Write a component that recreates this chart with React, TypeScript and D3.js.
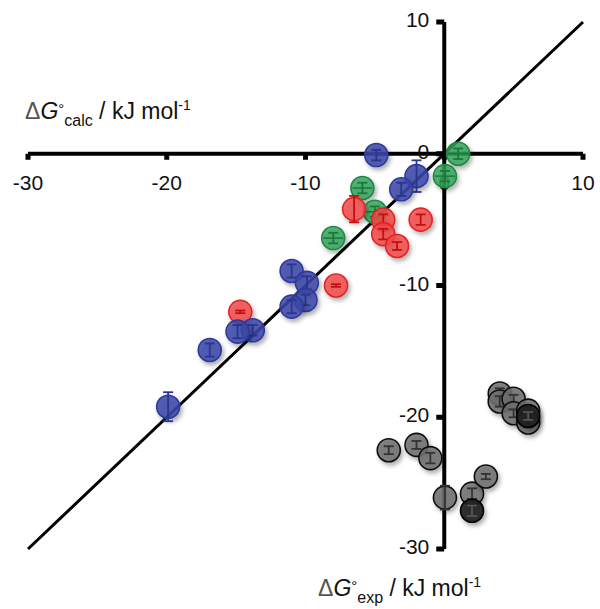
import { useEffect, useRef } from 'react'
import * as d3 from 'd3'

// experimental vs calculated free energies (kJ/mol)
const blueExp = [-4.9, -2.0, -3.1, -11.0, -9.9, -10.0, -11.0, -13.8, -14.9, -16.9, -19.9]
const blueCalc = [-0.1, -1.7, -2.7, -8.9, -9.8, -11.1, -11.6, -13.4, -13.5, -14.9, -19.2]
const blueErr = [0.4, 1.2, 0.5, 0.5, 0.5, 0.4, 0.5, 0.4, 0.5, 0.5, 1.1]

const redExp = [-6.5, -4.4, -4.4, -3.4, -1.7, -7.8, -14.7]
const redCalc = [-4.2, -5.0, -6.1, -7.0, -5.0, -10.0, -12.0]
const redErr = [1.0, 0.4, 0.4, 0.3, 0.4, 0.1, 0.1]

const greenExp = [1.0, 0.05, -5.9, -5.0, -8.0]
const greenCalc = [0.0, -1.7, -2.6, -4.4, -6.4]
const greenErr = [0.4, 0.4, 0.4, 0.4, 0.4]

const grayExp = [-4.0, -2.0, -1.0, 0.05, 2.0, 3.0, 4.0, 4.0, 5.0, 5.0, 6.05, 6.05]
const grayCalc = [-22.5, -22.1, -23.1, -26.1, -25.8, -24.5, -18.2, -18.8, -18.6, -19.7, -19.5, -20.4]
const grayErr = [0.3, 0.3, 0.4, 0.9, 0.4, 0.2, 0.4, 0.4, 0.3, 0.3, 0.3, 0.3]

const darkExp = [2.0, 6.05]
const darkCalc = [-27.1, -19.9]
const darkErr = [0.4, 0.3]

const xTicks = [-30, -20, -10, 0, 10]
const yTicks = [10, 0, -10, -20, -30]

const App = () => {
  const ref = useRef(null)

  useEffect(() => {
    const width = 600
    const height = 609
    const svg = d3.select(ref.current)
    svg.selectAll('*').remove()
    svg.attr('width', width).attr('height', height)

    const x = d3.scaleLinear().domain([-30, 10]).range([28, 583])
    const y = d3.scaleLinear().domain([-30, 10]).range([549, 22])

    const defs = svg.append('defs')
    defs.append('filter')
      .attr('id', 'shadow')
      .attr('x', '-50%').attr('y', '-50%').attr('width', '200%').attr('height', '200%')
      .append('feDropShadow')
      .attr('dx', 2).attr('dy', 3).attr('stdDeviation', 2.2)
      .attr('flood-color', '#000').attr('flood-opacity', 0.35)

    const font = 'Liberation Sans, Arial, sans-serif'

    // axes
    svg.append('line')
      .attr('x1', x(-30)).attr('x2', x(10))
      .attr('y1', y(0)).attr('y2', y(0))
      .attr('stroke', '#000').attr('stroke-width', 4)
    svg.append('line')
      .attr('x1', x(0)).attr('x2', x(0))
      .attr('y1', y(10)).attr('y2', y(-30))
      .attr('stroke', '#000').attr('stroke-width', 4)

    svg.selectAll('.xtick').data(xTicks).enter().append('rect')
      .attr('x', d => x(d) - 2.5).attr('y', y(0))
      .attr('width', 5).attr('height', 6).attr('fill', '#000')
    svg.selectAll('.ytick').data(yTicks).enter().append('rect')
      .attr('x', x(0) - 8).attr('y', d => y(d) - 2.5)
      .attr('width', 8).attr('height', 5).attr('fill', '#000')

    // y = x line
    svg.append('line')
      .attr('x1', x(-30)).attr('y1', y(-30))
      .attr('x2', x(10)).attr('y2', y(10))
      .attr('stroke', '#000').attr('stroke-width', 3)

    svg.selectAll('.xlab').data(xTicks).enter().append('text')
      .attr('x', d => x(d)).attr('y', y(0) + 36)
      .attr('text-anchor', 'middle')
      .style('font-family', font).style('font-size', '21px').style('fill', '#111')
      .text(d => d)
    svg.selectAll('.ylab').data(yTicks).enter().append('text')
      .attr('x', x(0) - 15).attr('y', d => y(d) + 5)
      .attr('text-anchor', 'end')
      .style('font-family', font).style('font-size', '21px').style('fill', '#111')
      .text(d => d)

    const drawSeries = (xs, ys, errs, fill, stroke, barColor, opacity, cross) => {
      const g = svg.append('g')
      xs.forEach((xv, i) => {
        const cx = x(xv)
        const cy = y(ys[i])
        const e = Math.abs(y(errs[i]) - y(0))
        const p = g.append('g')
        p.append('circle')
          .attr('cx', cx).attr('cy', cy).attr('r', 11.5)
          .attr('fill', fill).attr('fill-opacity', opacity)
          .attr('stroke', stroke).attr('stroke-width', 1.6)
          .attr('filter', 'url(#shadow)')
        p.append('line')
          .attr('x1', cx).attr('x2', cx).attr('y1', cy - e).attr('y2', cy + e)
          .attr('stroke', barColor).attr('stroke-width', 1.8)
        ;[cy - e, cy + e].forEach(yy => {
          p.append('line')
            .attr('x1', cx - 5).attr('x2', cx + 5).attr('y1', yy).attr('y2', yy)
            .attr('stroke', barColor).attr('stroke-width', 1.8)
        })
        if (cross) {
          p.append('line')
            .attr('x1', cx - 10).attr('x2', cx + 10).attr('y1', cy).attr('y2', cy)
            .attr('stroke', barColor).attr('stroke-width', 1.5)
        }
      })
    }

    drawSeries(grayExp, grayCalc, grayErr, '#6e6e6e', '#111', '#333', 0.85, false)
    drawSeries(darkExp, darkCalc, darkErr, '#1c1c1c', '#000', '#555', 0.9, false)
    drawSeries(greenExp, greenCalc, greenErr, '#34a35a', '#1c8a42', '#1a7a3a', 0.82, true)
    drawSeries(redExp, redCalc, redErr, '#f14a4a', '#e52222', '#c41010', 0.82, false)
    drawSeries(blueExp, blueCalc, blueErr, '#3c48a8', '#2d3a9c', '#2a3590', 0.85, false)

    // axis titles
    const title = (tx, ty, sub) => {
      const t = svg.append('text')
        .attr('x', tx).attr('y', ty)
        .style('font-family', font).style('font-size', '23px').style('fill', '#111')
      t.append('tspan').text('Δ').style('font-weight', 300).style('fill', '#555')
      t.append('tspan').text('G').style('font-style', 'italic')
      t.append('tspan').text('°').attr('dy', -5).style('font-size', '15px')
      t.append('tspan').text(sub).attr('dy', 12).style('font-size', '16px')
      t.append('tspan').text(' / kJ mol').attr('dy', -7)
      t.append('tspan').text('-1').attr('dy', -9).style('font-size', '14px')
    }
    title(25, 119, 'calc')
    title(318, 596, 'exp')
  }, [])

  return (
    <div style={{ width: 600, height: 609 }}>
      <svg ref={ref} style={{ display: 'block', position: 'absolute', left: 0, top: 0 }}></svg>
    </div>
  )
}

export default App
